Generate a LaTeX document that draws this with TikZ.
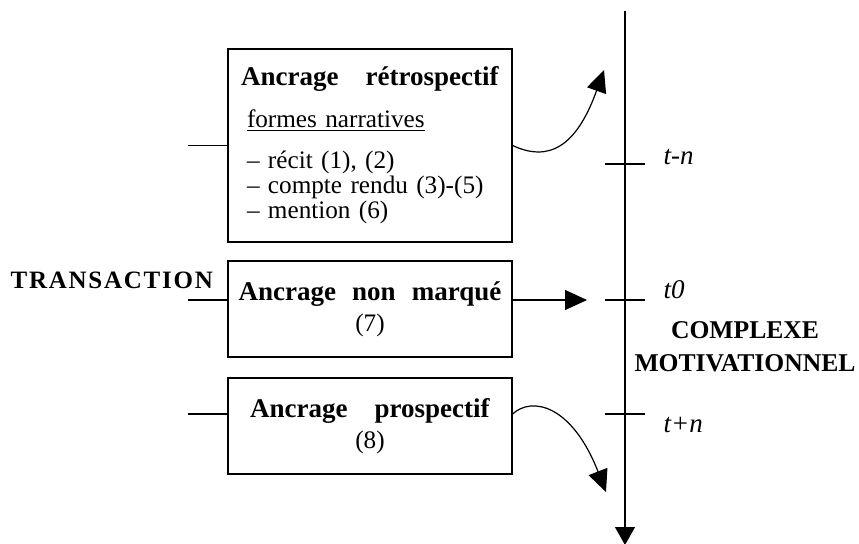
\documentclass[tikz,border=0pt]{standalone}
\usepackage{fontspec}
\setmainfont{Liberation Serif}
\usetikzlibrary{positioning, arrows.meta}
\newcommand\titre[1]{\textbf{\fontsize{13.5}{12.5}\selectfont#1}}
\tikzset{
>={Triangle[length=11pt, width=10pt]}, % big filled heads
x=0.5pt, y=-0.5pt, % one unit is one pixel of the page, y downwards
every node/.style={font=\fontsize{12.6}{12.5}\selectfont},
box/.style={draw, inner xsep=3pt, inner ysep=0pt, text width=136pt, align=center}, % the three anchorings
timelabel/.style={anchor=west, inner sep=0pt, font=\fontsize{13.5}{12.5}\selectfont\itshape},
bigword/.style={inner sep=0pt, align=center, font=\fontsize{12.8}{12.5}\selectfont\bfseries},
}
\begin{document}
\begin{tikzpicture}[line width=0.6pt]
                \useasboundingbox (0,0) rectangle (859,543);
                % time axis
                \coordinate (axtop) at (625,11);
                \coordinate (axbot) at (625,545);
                \coordinate (tmoins) at (625,164);
                \coordinate (tzero) at (625,300);
                \coordinate (tplus) at (625,414);
                \draw[-{Triangle[length=9pt, width=10pt]}] (axtop) -- (axbot);
                \foreach \t in {tmoins, tzero, tplus}
                    \draw ([xshift=-10pt]\t) -- ([xshift=10pt]\t);
                \node[timelabel] (lmoins) at (663,157) {t-n};
                \node[timelabel] (lzero) at (663,290) {t0};
                \node[timelabel] (lplus) at (663,425) {t+n};
                \node[bigword] (complexe) at (745,346.5) {COMPLEXE\\[4pt]MOTIVATIONNEL};
                \node[anchor=west, inner sep=0pt, font=\fontsize{12.5}{12}\selectfont\bfseries\addfontfeature{LetterSpace=7}] (transaction) at (10,280) {TRANSACTION};
                % boxes
                \node[box, minimum height=96.5pt, inner xsep=9.5pt, text width=123pt, align=left] (retro) at (370,145.5)
                    {\lineskiplimit=-6pt
                     \makebox[\hsize]{\titre{Ancrage\quad rétrospectif}}\\[8.5pt]
                     \underline{formes narratives}\\[8pt]
                     – récit (1), (2)\\
                     – compte rendu (3)-(5)\\
                     – mention (6)};
                \node[box, minimum height=48pt] (nonmarque) at (370,309)
                    {\titre{Ancrage\hspace{0.6em}non\hspace{0.6em}marqué}\\[3pt](7)};
                \node[box, minimum height=48pt] (prosp) at (370,426)
                    {\titre{Ancrage\quad prospectif}\\[3pt](8)};
                % stubs on the left
                \coordinate (stubretro) at (188,145.5);
                \coordinate (stubmarque) at (188,300);
                \coordinate (stubprosp) at (188,414);
                \draw (stubretro) -- (retro.west);
                \draw (stubmarque) -- (stubmarque -| nonmarque.west);
                \draw (stubprosp) -- (stubprosp -| prosp.west);
                % arrows towards the axis
                \coordinate (headretro) at (604,70);
                \coordinate (headzero) at (587,300);
                \coordinate (headprosp) at (606,492);
                \draw[->] (retro.east) .. controls (548,162) and (576,148) .. (headretro);
                \draw[->] (nonmarque.east |- tzero) -- (headzero);
                \draw[->] (prosp.east |- tplus) .. controls (532,396) and (572,405) .. (headprosp);
                \end{tikzpicture}
\end{document}
